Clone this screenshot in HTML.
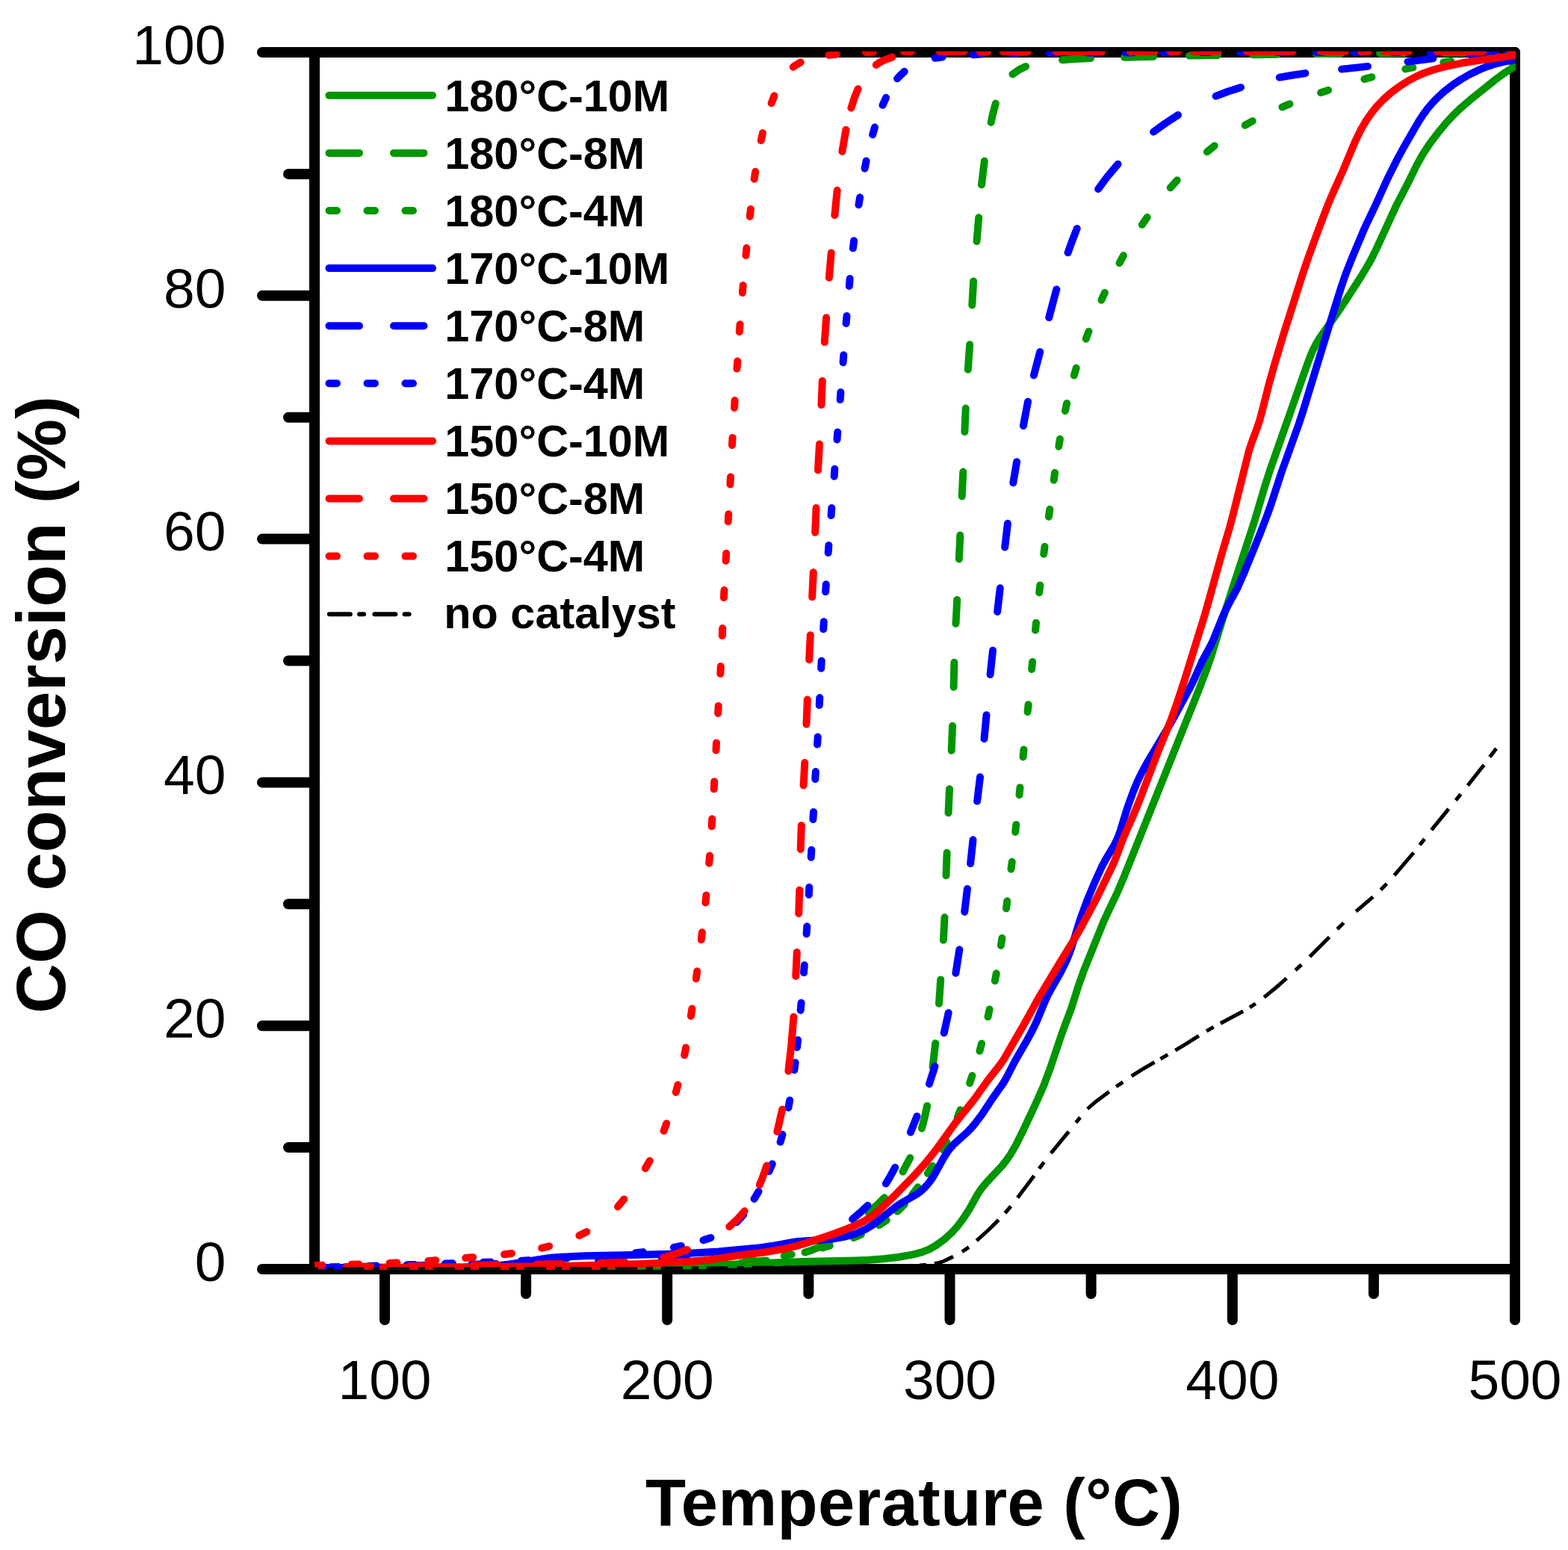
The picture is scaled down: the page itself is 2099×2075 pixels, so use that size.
<!DOCTYPE html>
<html><head><meta charset="utf-8"><title>CO conversion vs Temperature</title>
<style>html,body{margin:0;padding:0;background:#fff;overflow:hidden;width:2099px;height:2075px;}svg{display:block;}text{font-family:"Liberation Sans",Arial,sans-serif;fill:#000;}</style>
</head><body>
<svg width="2099" height="2075" viewBox="0 0 2099 2075">
<rect x="0" y="0" width="2099" height="2075" fill="#fff"/>
<defs><clipPath id="plot"><rect x="421" y="68.7" width="1608" height="1631"/></clipPath></defs>
<g stroke="#000" stroke-width="14" fill="none">
<path d="M351 70 H2028" stroke-linecap="round"/>
<path d="M351 1699 H2028" stroke-linecap="round"/>
<path d="M421 70 V1699" stroke-linecap="square"/>
<path d="M2028 70 V1767" stroke-linecap="round"/>
<path d="M351 1373.2 H421" stroke-linecap="round"/>
<path d="M351 1047.4 H421" stroke-linecap="round"/>
<path d="M351 721.6 H421" stroke-linecap="round"/>
<path d="M351 395.8 H421" stroke-linecap="round"/>
<path d="M386 1536.1 H421" stroke-linecap="round"/>
<path d="M386 1210.3 H421" stroke-linecap="round"/>
<path d="M386 884.5 H421" stroke-linecap="round"/>
<path d="M386 558.7 H421" stroke-linecap="round"/>
<path d="M386 232.9 H421" stroke-linecap="round"/>
<path d="M515.0 1699 V1767" stroke-linecap="round"/>
<path d="M893.2 1699 V1767" stroke-linecap="round"/>
<path d="M1271.5 1699 V1767" stroke-linecap="round"/>
<path d="M1649.8 1699 V1767" stroke-linecap="round"/>
<path d="M704.1 1699 V1732" stroke-linecap="round"/>
<path d="M1082.4 1699 V1732" stroke-linecap="round"/>
<path d="M1460.6 1699 V1732" stroke-linecap="round"/>
<path d="M1838.9 1699 V1732" stroke-linecap="round"/>
</g>
<g clip-path="url(#plot)" fill="none" stroke-width="10" stroke-linecap="round" stroke-linejoin="round">
<path d="M421.0 1697.0L671.1 1697.1L774.1 1696.5L857.1 1695.7L942.1 1693.9L999.1 1692.0L1073.1 1689.0L1145.1 1687.5L1163.1 1686.8L1183.0 1685.3L1201.9 1683.0L1221.5 1679.6L1234.0 1676.4L1244.1 1672.3L1253.6 1666.9L1264.0 1659.3L1273.6 1650.6L1282.2 1641.0L1290.5 1629.8L1298.0 1618.0L1309.2 1598.0L1314.2 1590.6L1321.2 1582.2L1341.7 1560.4L1347.2 1553.4L1352.8 1545.2L1360.3 1532.2L1369.2 1514.3L1388.7 1472.6L1397.1 1453.4L1405.9 1430.0L1421.5 1383.5L1433.8 1350.8L1444.7 1316.5L1450.8 1299.6L1477.4 1233.7L1483.2 1221.0L1495.7 1194.8L1502.8 1178.3L1605.4 922.0L1615.0 896.7L1621.6 877.8L1640.5 816.7L1679.3 697.8L1693.2 650.9L1700.9 627.0L1749.4 489.3L1754.3 476.2L1758.3 467.1L1762.0 460.0L1766.6 452.4L1789.1 420.5L1799.8 404.8L1820.4 372.8L1831.8 354.0L1837.0 344.4L1842.3 333.6L1868.6 276.3L1886.0 242.6L1897.0 220.1L1904.8 206.2L1914.2 192.0L1925.0 177.7L1935.8 164.6L1945.3 154.3L1955.3 144.6L1967.5 134.2L2002.6 106.0L2015.1 96.9L2029.0 88.0" stroke="#009600"/>
<path d="M1077.6 1676.6L1087.1 1673.4L1096.4 1669.7L1110.6 1662.5M992.6 1690.5L1025.6 1687.4M907.6 1693.6L940.6 1693.0M822.6 1694.5L855.6 1694.2M737.6 1695.4L770.6 1695.2M652.6 1696.0L685.6 1695.8M567.6 1696.4L600.6 1696.2M482.6 1696.7L515.6 1696.6M421.0 1697.0L430.6 1697.0M1162.6 1623.5L1175.5 1611.7L1183.9 1603.2M1208.5 1568.6L1218.3 1550.0M1233.9 1510.6L1238.0 1495.1L1241.1 1480.4M1248.6 1428.4L1252.2 1396.6M1257.0 1343.4L1259.2 1311.4M1262.9 1258.6L1264.5 1228.1M1266.5 1172.1L1267.6 1141.6M1269.5 1088.2L1271.0 1056.2M1273.7 1004.8L1275.1 971.8M1276.6 919.8L1277.4 886.8M1279.5 834.9L1281.2 802.9M1283.8 748.5L1285.3 716.5M1287.7 664.5L1289.3 631.6M1291.4 578.1L1292.7 546.6M1295.8 494.7L1298.2 461.3M1301.3 408.4L1303.1 376.4M1307.5 323.1L1310.2 291.2M1314.0 247.4L1317.8 215.6M1326.6 163.9L1329.4 151.2L1332.8 138.6M1355.5 99.4L1364.2 93.3L1373.1 88.9M1422.1 80.3L1438.0 79.1L1460.0 78.0M1505.0 76.7L1544.0 75.7M1592.0 74.6L1630.0 73.9M1677.0 73.2L1710.0 72.7M1762.0 72.1L1795.0 71.8M1847.0 71.4L1880.0 71.1M1932.0 70.7L1965.0 70.5M2017.0 70.1L2029.0 70.0" stroke="#009600"/>
<path d="M1049.7 1681.2L1059.7 1679.4M998.7 1688.0L1008.7 1687.0M947.7 1691.1L957.7 1690.7M896.7 1692.6L906.7 1692.4M845.7 1693.6L855.7 1693.4M794.7 1694.4L804.7 1694.3M743.7 1695.1L753.7 1695.0M692.7 1695.6L702.7 1695.5M641.7 1695.9L651.7 1695.8M590.7 1696.1L600.7 1696.1M539.7 1696.4L549.7 1696.3M488.7 1696.6L498.7 1696.6M437.7 1696.9L447.7 1696.8M1100.7 1670.5L1110.7 1667.7M1142.8 1657.0L1152.8 1652.7M1176.8 1640.2L1186.8 1633.5M1201.2 1621.8L1210.9 1612.1M1221.1 1599.3L1228.7 1589.3M1241.8 1570.8L1248.4 1560.8M1261.9 1538.8L1267.3 1528.8M1281.7 1495.8L1285.6 1485.8M1298.1 1450.0L1301.4 1440.0M1311.4 1407.0L1314.1 1397.0M1322.5 1361.2L1324.6 1351.2M1331.9 1313.1L1333.7 1303.1M1339.9 1265.7L1341.4 1255.7M1347.0 1216.2L1348.3 1206.2M1353.5 1163.6L1354.7 1153.6M1359.2 1113.9L1360.3 1103.9M1364.5 1064.2L1365.5 1054.2M1369.5 1013.4L1370.5 1003.4M1375.6 953.2L1376.6 943.2M1381.1 896.0L1382.1 886.0M1386.0 843.7L1387.0 833.7M1391.2 793.4L1392.3 783.4M1397.2 741.8L1398.5 731.8M1403.9 691.7L1405.3 681.7M1410.7 642.7L1412.1 632.7M1417.3 597.7L1418.9 587.7M1425.9 550.0L1428.1 540.0M1437.8 502.6L1440.7 492.6M1453.7 453.7L1457.4 443.7M1474.4 401.8L1478.9 391.8M1498.5 352.1L1503.9 342.1M1528.8 300.8L1535.7 290.8M1566.7 251.3L1575.7 241.3M1615.8 203.3L1625.8 195.2M1666.7 167.7L1676.7 162.0M1716.4 143.4L1726.4 139.2M1768.1 124.1L1778.1 120.7M1826.4 105.9L1836.4 103.2M1881.3 92.4L1891.3 90.4M1932.3 83.5L1942.3 82.1M1983.3 76.9L1993.3 75.8" stroke="#009600"/>
<path d="M421.0 1697.0L584.0 1697.1L622.0 1696.6L648.0 1695.6L664.0 1694.5L679.9 1692.8L695.7 1690.5L727.2 1685.1L738.1 1683.8L751.1 1682.8L783.0 1681.3L847.0 1680.1L908.0 1678.4L936.0 1677.1L961.9 1675.4L1004.8 1671.6L1021.7 1669.8L1034.5 1667.8L1057.1 1663.6L1067.9 1662.0L1101.8 1659.7L1115.7 1658.2L1128.5 1656.1L1140.1 1653.2L1150.4 1649.6L1159.3 1645.2L1166.1 1641.1L1173.4 1635.9L1200.0 1614.9L1207.5 1610.0L1226.4 1599.2L1232.8 1594.6L1237.8 1589.9L1243.7 1583.2L1248.8 1576.0L1253.4 1568.2L1263.3 1549.8L1269.3 1540.7L1273.0 1536.1L1277.0 1531.7L1295.4 1515.1L1300.3 1510.1L1304.8 1504.8L1314.4 1492.0L1329.8 1468.8L1343.4 1449.5L1347.8 1441.8L1358.7 1420.5L1373.7 1394.6L1381.4 1380.5L1387.9 1367.0L1397.8 1343.0L1402.3 1333.0L1407.0 1324.2L1419.4 1302.5L1426.1 1289.2L1430.1 1280.0L1434.0 1269.7L1446.4 1229.6L1455.0 1206.2L1465.0 1182.2L1474.5 1161.2L1480.1 1150.6L1491.3 1131.9L1496.1 1122.0L1499.9 1111.8L1507.1 1087.9L1511.9 1073.7L1517.8 1057.7L1523.2 1044.9L1528.5 1034.1L1535.7 1020.9L1570.4 962.5L1594.1 918.4L1599.3 907.7L1609.4 884.9L1619.8 865.7L1623.8 857.6L1635.7 828.0L1640.1 818.0L1644.6 809.0L1656.5 787.1L1664.6 768.8L1686.5 715.1L1696.6 689.0L1702.5 672.0L1715.5 632.1L1738.5 568.1L1744.7 549.1L1781.0 430.5L1795.9 382.8L1801.5 366.7L1809.9 345.3L1826.6 305.7L1841.6 274.1L1857.3 239.5L1869.8 214.4L1878.9 197.7L1892.8 173.4L1899.9 161.4L1905.4 153.0L1911.3 145.0L1917.8 137.4L1925.5 129.6L1933.6 122.3L1944.6 113.7L1955.4 106.5L1967.5 99.5L1980.1 93.4L1991.2 88.9L2002.5 85.3L2013.6 82.7L2029.0 80.0" stroke="#0000ff"/>
<path d="M1056.1 1669.6L1075.0 1665.2L1089.1 1661.0M971.1 1680.3L1004.1 1677.3M886.1 1685.4L919.1 1683.8M801.1 1688.3L834.1 1687.3M716.1 1690.7L749.1 1689.8M631.1 1692.7L664.1 1692.0M546.1 1694.5L579.1 1693.8M461.1 1696.2L494.1 1695.5M1141.1 1632.1L1151.4 1623.4L1161.5 1613.8M1185.8 1584.6L1190.8 1576.5L1198.2 1562.9M1218.9 1515.8L1227.5 1494.4M1244.0 1451.0L1251.5 1427.6M1263.7 1382.8L1269.7 1355.9M1279.4 1302.8L1284.3 1271.2M1291.2 1220.7L1294.9 1189.9M1299.1 1156.1L1302.5 1124.3M1308.1 1072.6L1312.0 1040.3M1317.5 989.1L1320.5 957.3M1325.6 903.0L1329.0 870.7M1335.1 819.0L1338.8 787.3M1345.2 732.6L1348.9 700.8M1356.3 646.3L1361.1 618.2M1369.9 570.0L1376.0 537.6M1383.9 502.5L1392.2 471.1M1404.2 425.1L1414.3 387.4M1429.6 338.3L1435.7 321.3L1441.7 306.0M1470.1 253.1L1482.8 235.9L1496.5 219.8M1544.1 176.5L1559.9 165.1L1577.0 154.0M1627.6 128.7L1643.9 122.5L1661.0 116.9M1712.8 103.6L1729.6 100.7L1747.4 98.1M1796.1 92.6L1830.9 88.9M1884.5 82.6L1918.3 78.4M1969.5 73.7L2002.5 72.1" stroke="#0000ff"/>
<path d="M850.9 1677.2L860.9 1676.1M799.9 1681.9L809.9 1681.1M748.9 1685.1L758.9 1684.5M697.9 1687.7L707.9 1687.3M646.9 1689.8L656.9 1689.4M595.9 1691.6L605.9 1691.3M544.9 1693.3L554.9 1693.0M493.9 1694.9L503.9 1694.6M442.9 1696.3L452.9 1696.1M901.9 1669.9L911.9 1667.9M941.5 1660.3L951.5 1656.9M986.2 1636.2L995.4 1626.2M1009.6 1605.0L1015.5 1595.0M1029.4 1568.2L1033.8 1558.2M1044.6 1528.8L1047.5 1518.8M1055.4 1482.9L1057.2 1472.9M1063.3 1432.5L1064.6 1422.5M1066.9 1402.2L1068.0 1392.2M1071.7 1352.4L1072.6 1342.4M1076.0 1302.1L1076.8 1292.1M1079.6 1250.2L1080.3 1240.2M1082.8 1197.8L1083.3 1187.8M1085.7 1147.8L1086.3 1137.8M1088.4 1096.9L1089.0 1086.9M1091.3 1043.0L1091.9 1033.0M1094.1 996.6L1094.7 986.6M1096.8 944.1L1097.3 934.1M1099.2 894.7L1099.7 884.7M1102.2 842.3L1102.8 832.3M1105.1 792.3L1105.8 782.3M1108.7 740.0L1109.4 730.0M1112.6 690.1L1113.3 680.1M1116.7 637.8L1117.4 627.8M1120.5 588.4L1121.3 578.4M1124.7 535.1L1125.4 525.1M1128.6 485.2L1129.3 475.2M1132.6 432.9L1133.5 422.9M1136.8 383.0L1137.7 373.0M1141.9 332.3L1143.1 322.3M1149.5 274.3L1151.1 264.3M1157.6 225.5L1159.6 215.5M1168.1 180.3L1171.0 170.3M1181.5 140.8L1186.1 130.8M1201.1 105.3L1204.3 101.7L1210.7 95.8M1251.7 77.8L1261.7 76.3M1302.7 73.2L1312.7 72.6M1353.7 71.3L1363.7 71.1M1404.7 70.8L1414.7 70.7M1455.7 70.7L1465.7 70.7M1506.7 70.6L1516.7 70.5M1557.7 70.3L1567.7 70.3M1608.7 70.1L1618.7 70.1M1659.7 70.0L1669.7 70.0M1710.7 70.0L1720.7 70.0M1761.7 70.0L1771.7 70.0M1812.7 70.0L1822.7 70.0M1863.7 70.0L1873.7 70.0M1914.7 70.0L1924.7 70.0M1965.7 70.0L1975.7 70.0M2016.7 70.0L2026.7 70.0" stroke="#0000ff"/>
<path d="M512.0 1697.0L632.0 1696.2L759.1 1694.7L813.1 1693.6L864.0 1691.8L920.0 1688.9L941.9 1687.3L955.8 1685.6L987.4 1680.7L1022.2 1676.5L1039.0 1673.9L1051.7 1671.4L1064.4 1668.4L1077.8 1664.5L1094.0 1659.3L1114.8 1652.2L1133.5 1645.2L1146.5 1639.8L1156.3 1635.0L1162.3 1631.4L1168.0 1627.5L1173.5 1623.2L1180.2 1617.3L1200.3 1597.8L1225.4 1571.9L1238.1 1557.8L1249.4 1543.9L1259.0 1531.0L1278.8 1503.4L1304.4 1471.4L1322.4 1446.2L1337.8 1426.6L1344.1 1417.6L1371.0 1370.9L1391.9 1333.3L1418.7 1288.8L1438.1 1257.3L1446.2 1243.4L1467.9 1202.9L1487.2 1163.3L1491.8 1153.4L1504.2 1120.7L1518.3 1088.7L1524.8 1073.0L1550.1 1006.6L1566.7 965.9L1574.9 943.3L1585.8 910.1L1612.8 823.1L1634.5 745.1L1646.4 704.8L1651.5 685.4L1671.8 603.9L1675.2 593.5L1682.8 572.9L1686.3 562.5L1689.2 551.9L1698.5 515.0L1706.3 487.1L1719.3 444.0L1745.1 363.0L1752.3 342.2L1765.6 305.6L1777.8 273.8L1784.4 258.1L1798.0 228.0L1813.3 191.1L1821.5 174.0L1828.5 161.9L1835.9 151.3L1843.4 142.0L1852.4 132.6L1862.2 124.1L1873.3 115.7L1885.1 108.1L1896.5 102.1L1906.6 97.7L1917.9 93.7L1930.4 90.2L1945.0 86.8L1957.7 84.3L1973.5 81.7L2029.0 74.0" stroke="#ff0000"/>
<path d="M803.5 1690.7L836.5 1689.7M718.5 1692.5L751.5 1691.9M633.5 1693.9L666.5 1693.3M548.5 1695.1L581.5 1694.7M463.5 1696.4L496.5 1695.9M888.5 1683.3L901.5 1679.7L919.9 1673.0M976.3 1642.2L987.9 1631.4L996.7 1621.3M1016.8 1586.1L1020.6 1576.9L1026.4 1560.4M1040.4 1515.0L1047.2 1485.2M1055.4 1433.9L1059.5 1397.1L1062.4 1361.2M1065.3 1306.8L1066.8 1274.8M1069.2 1222.9L1070.3 1191.4M1071.7 1136.9L1072.8 1104.9M1075.6 1051.5L1077.3 1021.0M1079.5 969.6L1080.8 936.6M1083.2 883.2L1084.8 850.2M1087.2 799.2L1088.8 766.3M1091.2 712.8L1092.6 679.9M1095.0 629.4L1097.0 594.5M1099.5 542.0L1100.8 510.0M1103.8 458.1L1106.1 425.2M1109.9 371.8L1112.7 338.4M1117.4 288.2L1120.7 254.8M1127.4 202.8L1132.4 173.7M1139.4 144.5L1144.3 129.3L1148.6 119.1M1172.8 86.9L1176.7 84.2L1183.3 80.6L1194.5 76.5M1257.8 69.2L1290.8 68.8M1342.8 69.1L1375.8 69.5M1427.8 69.5L1460.8 69.3M1512.8 68.9L1545.8 68.8M1597.8 68.7L1630.8 68.7M1682.8 68.7L1715.8 68.7M1767.8 68.8L1800.8 68.8M1852.8 68.9L1885.8 68.9M1937.8 69.0L1970.8 69.0M2022.8 69.0L2029.0 69.0" stroke="#ff0000"/>
<path d="M421.5 1694.0L431.5 1693.7M470.5 1692.8L480.5 1692.5M521.5 1690.9L531.5 1690.4M573.4 1688.0L583.4 1687.3M623.2 1684.1L633.2 1683.2M675.0 1679.3L685.0 1678.0M725.1 1670.8L735.1 1668.3M775.4 1654.0L785.4 1649.0M827.0 1615.4L835.4 1605.4M863.8 1564.1L869.7 1554.1M888.6 1513.9L892.2 1503.9M904.8 1462.3L907.4 1452.3M916.2 1412.5L918.1 1402.5M924.9 1360.2L926.4 1350.2M931.8 1310.2L933.2 1300.2M938.7 1258.1L939.9 1248.1M944.4 1208.4L945.4 1198.4M949.2 1155.6L950.0 1145.6M952.7 1106.2L953.3 1096.2M955.7 1056.3L956.2 1046.3M958.5 1004.4L959.0 994.4M961.2 954.9L961.7 944.9M964.3 902.0L964.8 892.0M966.8 851.1L967.2 841.1M969.0 800.1L969.5 790.1M971.6 750.7L972.2 740.7M974.7 698.3L975.3 688.3M977.4 648.4L978.0 638.4M980.0 595.9L980.6 585.9M983.0 546.0L983.6 536.0M986.5 493.6L987.2 483.6M989.8 444.2L990.6 434.2M993.9 391.9L994.7 381.9M998.5 342.1L999.4 332.1M1003.8 289.9L1004.9 279.9M1009.7 239.7L1011.2 229.7M1018.7 188.1L1021.0 178.1M1032.6 138.2L1036.4 128.2M1061.7 89.8L1065.0 87.3L1071.7 83.4M1109.6 73.9L1119.6 72.7M1158.9 69.9L1168.9 69.5M1209.9 69.0L1219.9 68.9M1260.9 69.1L1270.9 69.1M1311.9 69.4L1321.9 69.5M1362.9 69.5L1372.9 69.5M1413.9 69.3L1423.9 69.3M1464.9 69.1L1474.9 69.1M1515.9 69.0L1525.9 68.9M1566.9 68.9L1576.9 68.9M1617.9 68.9L1627.9 68.9M1668.9 68.9L1678.9 68.9M1719.9 68.9L1729.9 68.9M1770.9 68.9L1780.9 68.9M1821.9 69.0L1831.9 69.0M1872.9 69.0L1882.9 69.0M1923.9 69.0L1933.9 69.0M1974.9 69.0L1984.9 69.0M2025.9 69.0L2029.0 69.0" stroke="#ff0000"/>
<path d="M1230.9 1694.0L1239.9 1693.2M1189.9 1695.8L1218.9 1694.8M1169.9 1696.2L1178.9 1696.0M1128.9 1696.4L1157.9 1696.3M1108.9 1696.5L1117.9 1696.5M1067.9 1696.7L1096.9 1696.5M1047.9 1696.9L1056.9 1696.8M1006.9 1697.3L1035.9 1697.0M986.9 1697.6L995.9 1697.5M945.9 1697.9L974.9 1697.7M925.9 1698.0L934.9 1698.0M884.9 1698.2L913.9 1698.1M864.9 1698.3L873.9 1698.3M823.9 1698.5L852.9 1698.4M803.9 1698.5L812.9 1698.5M762.9 1698.6L791.9 1698.5M742.9 1698.6L751.9 1698.6M701.9 1698.6L730.9 1698.6M681.9 1698.7L690.9 1698.6M640.9 1698.7L669.9 1698.7M620.9 1698.7L629.9 1698.7M579.9 1698.7L608.9 1698.7M559.9 1698.7L568.9 1698.7M518.9 1698.8L547.9 1698.8M498.9 1698.8L507.9 1698.8M457.9 1698.9L486.9 1698.8M437.9 1699.0L446.9 1698.9M421.0 1699.0L425.9 1699.0M1250.9 1691.6L1257.3 1690.4L1263.0 1688.5L1276.0 1682.2M1287.9 1675.8L1297.0 1669.6M1307.4 1660.9L1322.2 1647.5L1336.8 1633.1M1345.4 1624.0L1353.2 1614.9M1362.1 1603.5L1384.3 1573.9M1391.0 1564.5L1397.6 1555.7M1406.8 1543.8L1430.7 1514.9M1440.3 1502.8L1446.0 1495.8M1455.8 1484.5L1466.3 1475.2L1484.7 1461.4M1494.1 1454.8L1503.2 1448.6M1514.7 1440.7L1527.7 1432.3L1545.5 1422.0M1553.4 1417.6L1563.3 1411.9M1573.3 1406.1L1587.5 1397.7L1604.8 1386.7M1615.0 1380.4L1624.6 1374.9M1633.8 1370.0L1664.2 1353.7M1672.9 1348.7L1680.8 1343.5M1692.1 1335.1L1707.6 1322.5L1722.3 1309.7M1734.1 1298.9L1742.2 1291.4M1753.3 1280.7L1779.5 1254.5M1790.1 1243.9L1798.7 1235.5M1815.2 1220.2L1838.0 1200.7M1848.3 1191.2L1856.4 1183.0M1866.4 1171.9L1892.4 1141.5M1900.5 1131.3L1907.0 1123.1M1916.2 1111.2L1939.2 1082.9M1948.8 1071.3L1955.4 1063.2M1964.8 1051.5L1986.5 1024.0M1994.3 1013.6L2003.0 1002.0" stroke="#000" stroke-width="5" stroke-linecap="butt"/>
</g>
<g font-size="75" text-anchor="end">
<text x="302.4" y="1714.8">0</text>
<text x="302.4" y="1389.0">20</text>
<text x="302.4" y="1063.2">40</text>
<text x="302.4" y="737.4">60</text>
<text x="302.4" y="411.6">80</text>
<text x="302.4" y="85.8">100</text>
</g>
<g font-size="75" text-anchor="middle">
<text x="515.0" y="1873.2">100</text>
<text x="893.2" y="1873.2">200</text>
<text x="1271.5" y="1873.2">300</text>
<text x="1649.8" y="1873.2">400</text>
<text x="2028.0" y="1873.2">500</text>
</g>
<text x="863.9" y="2042.2" font-size="88.5" font-weight="bold" letter-spacing="0.43">Temperature (°C)</text>
<text transform="translate(87 1356.8) rotate(-90)" x="0" y="0" font-size="92.4" font-weight="bold">CO conversion (%)</text>
<g font-size="59.4" font-weight="bold">
<path d="M440.5 127.8 H579" stroke="#009600" stroke-width="10" stroke-linecap="round" fill="none"/>
<text x="595.3" y="148.5">180°C-10M</text>
<path d="M440.5 204.9 H579" stroke="#009600" stroke-width="10" stroke-linecap="round" fill="none" stroke-dasharray="40.5 46"/>
<text x="595.3" y="225.6">180°C-8M</text>
<path d="M440.5 282.0 H579" stroke="#009600" stroke-width="10" stroke-linecap="round" fill="none" stroke-dasharray="10.5 40.5"/>
<text x="595.3" y="302.7">180°C-4M</text>
<path d="M440.5 359.1 H579" stroke="#0000ff" stroke-width="10" stroke-linecap="round" fill="none"/>
<text x="595.3" y="379.8">170°C-10M</text>
<path d="M440.5 436.2 H579" stroke="#0000ff" stroke-width="10" stroke-linecap="round" fill="none" stroke-dasharray="40.5 46"/>
<text x="595.3" y="456.9">170°C-8M</text>
<path d="M440.5 513.3 H579" stroke="#0000ff" stroke-width="10" stroke-linecap="round" fill="none" stroke-dasharray="10.5 40.5"/>
<text x="595.3" y="534.0">170°C-4M</text>
<path d="M440.5 590.4 H579" stroke="#ff0000" stroke-width="10" stroke-linecap="round" fill="none"/>
<text x="595.3" y="611.1">150°C-10M</text>
<path d="M440.5 667.5 H579" stroke="#ff0000" stroke-width="10" stroke-linecap="round" fill="none" stroke-dasharray="40.5 46"/>
<text x="595.3" y="688.2">150°C-8M</text>
<path d="M440.5 744.6 H579" stroke="#ff0000" stroke-width="10" stroke-linecap="round" fill="none" stroke-dasharray="10.5 40.5"/>
<text x="595.3" y="765.3">150°C-4M</text>
<path d="M440.9 822.2 H548" stroke="#000" stroke-width="6" stroke-linecap="round" fill="none" stroke-dasharray="28 12.2 6 14.3"/>
<text x="594.3" y="840.7">no catalyst</text>
</g>
</svg></body></html>
